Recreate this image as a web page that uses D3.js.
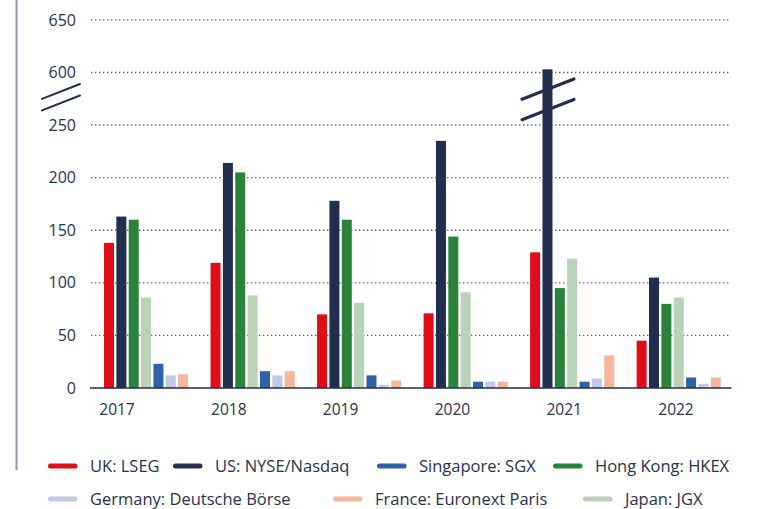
<!DOCTYPE html>
<html>
<head>
<meta charset="utf-8">
<script src="https://cdn.jsdelivr.net/npm/d3@7"></script>
<style>
  body { margin: 0; background: #fff; }
  text { font-family: "Open Sans", "Noto Sans", sans-serif; fill: #28324f; }
</style>
</head>
<body>
<svg id="chart" width="763" height="509"></svg>
<script>
// IPO counts by exchange
const years = ['2017', '2018', '2019', '2020', '2021', '2022'];

// bar order inside each year group
const seriesOrder = ['UK: LSEG', 'US: NYSE/Nasdaq', 'Hong Kong: HKEX', 'Japan: JGX',
    'Singapore: SGX', 'Germany: Deutsche Börse', 'France: Euronext Paris'];

const ukLSEG      = [138, 119, 70, 71, 129, 45];
const usNYSE      = [163, 214, 178, 235, 603, 105];
const hongKong    = [160, 205, 160, 144, 95, 80];
const japanJGX    = [86, 88, 81, 91, 123, 86];
const singapore   = [23, 16, 12, 6, 6, 10];
const germany     = [12, 12, 3, 6, 9, 4];
const france      = [13, 16, 7, 6, 31, 10];

const yTicks = [0, 50, 100, 150, 200, 250, 600, 650];

// legend order (two rows)
const legendRow1 = ['UK: LSEG', 'US: NYSE/Nasdaq', 'Singapore: SGX', 'Hong Kong: HKEX'];
const legendRow2 = ['Germany: Deutsche Börse', 'France: Euronext Paris', 'Japan: JGX'];

const seriesValues = {
    'UK: LSEG': ukLSEG,
    'US: NYSE/Nasdaq': usNYSE,
    'Hong Kong: HKEX': hongKong,
    'Japan: JGX': japanJGX,
    'Singapore: SGX': singapore,
    'Germany: Deutsche Börse': germany,
    'France: Euronext Paris': france
};

const colors = {
    'UK: LSEG': '#e00d19',
    'US: NYSE/Nasdaq': '#222e4e',
    'Hong Kong: HKEX': '#2b823a',
    'Japan: JGX': '#b8d3b6',
    'Singapore: SGX': '#2d63a6',
    'Germany: Deutsche Börse': '#c3c8e4',
    'France: Euronext Paris': '#f5b69d'
};

const navy = '#222e4e';
const svg = d3.select('#chart');

// values above the break (300) are shifted down so 600 sits one step above 250
const brk = v => v > 300 ? v - 300 : v;

const y = d3.scaleLinear().domain([0, 350]).range([388, 19.9]);

const x0 = d3.scaleBand().domain(years).range([104, 720.8]).paddingInner(0.21).paddingOuter(0);
const x1 = d3.scaleBand().domain(seriesOrder).range([0, x0.bandwidth()]).paddingInner(0.19);
const xLabel = d3.scalePoint().domain(years).range([117, 676]);

// left frame line
svg.append('line')
    .attr('x1', 16.5).attr('x2', 16.5)
    .attr('y1', 0).attr('y2', 470)
    .attr('stroke', '#8d97aa')
    .attr('stroke-width', 2);

// gridlines + y labels
svg.append('g')
    .selectAll('line')
    .data(yTicks.filter(d => d !== 0))
    .enter()
    .append('line')
    .attr('x1', 91).attr('x2', 731)
    .attr('y1', d => y(brk(d))).attr('y2', d => y(brk(d)))
    .attr('stroke', '#56607a')
    .attr('stroke-width', 1.4)
    .attr('stroke-dasharray', '1.4 2.6');

svg.append('g')
    .selectAll('text')
    .data(yTicks)
    .enter()
    .append('text')
    .attr('x', 76)
    .attr('y', d => y(brk(d)))
    .attr('dy', '0.35em')
    .attr('text-anchor', 'end')
    .style('font-size', '16px')
    .text(d => d);

// bars
const groups = svg.append('g')
    .selectAll('g')
    .data(years)
    .enter()
    .append('g')
    .attr('transform', d => `translate(${x0(d)},0)`);

groups.selectAll('rect')
    .data((yr, i) => seriesOrder.map(s => ({key: s, value: seriesValues[s][i]})))
    .enter()
    .append('rect')
    .attr('x', d => x1(d.key))
    .attr('width', x1.bandwidth())
    .attr('y', d => y(brk(d.value)))
    .attr('height', d => y(0) - y(brk(d.value)))
    .attr('fill', d => colors[d.key]);

// baseline
svg.append('line')
    .attr('x1', 90).attr('x2', 731.5)
    .attr('y1', y(0)).attr('y2', y(0))
    .attr('stroke', navy)
    .attr('stroke-width', 1.6);

// x labels
svg.append('g')
    .selectAll('text')
    .data(years)
    .enter()
    .append('text')
    .attr('x', d => xLabel(d))
    .attr('y', 410)
    .attr('dy', '0.35em')
    .attr('text-anchor', 'middle')
    .style('font-size', '15.5px')
    .text(d => d);

// break marks: on the axis and across the tall 2021 US bar
function breakMark(cx, cy, halfW, slope, gap, width) {
    const g = svg.append('g');
    [-gap / 2, gap / 2].forEach(off => {
        g.append('line')
            .attr('x1', cx - halfW).attr('y1', cy + off + halfW * slope)
            .attr('x2', cx + halfW).attr('y2', cy + off - halfW * slope)
            .attr('stroke', navy)
            .attr('stroke-width', width)
            .attr('stroke-linecap', 'round');
    });
}

breakMark(61, 97.2, 19, 0.39, 11.5, 2);
const usBarX = x0('2021') + x1('US: NYSE/Nasdaq') + x1.bandwidth() / 2;
breakMark(usBarX + 0.5, 99.3, 26, 0.39, 20.5, 3.2);

// legend
const legendRows = [
    {y: 466, items: legendRow1, xs: [48, 173, 377, 553]},
    {y: 499, items: legendRow2, xs: [48, 333, 583]}
];

legendRows.forEach(row => {
    const item = svg.append('g')
        .selectAll('g')
        .data(row.items)
        .enter()
        .append('g')
        .attr('transform', (d, i) => `translate(${row.xs[i]},${row.y})`);

    item.append('line')
        .attr('x1', 2.5).attr('x2', 27)
        .attr('stroke', d => colors[d])
        .attr('stroke-width', 5)
        .attr('stroke-linecap', 'round');

    item.append('text')
        .attr('x', 42)
        .attr('dy', '0.35em')
        .style('font-size', '16.5px')
        .text(d => d);
});
</script>
</body>
</html>
